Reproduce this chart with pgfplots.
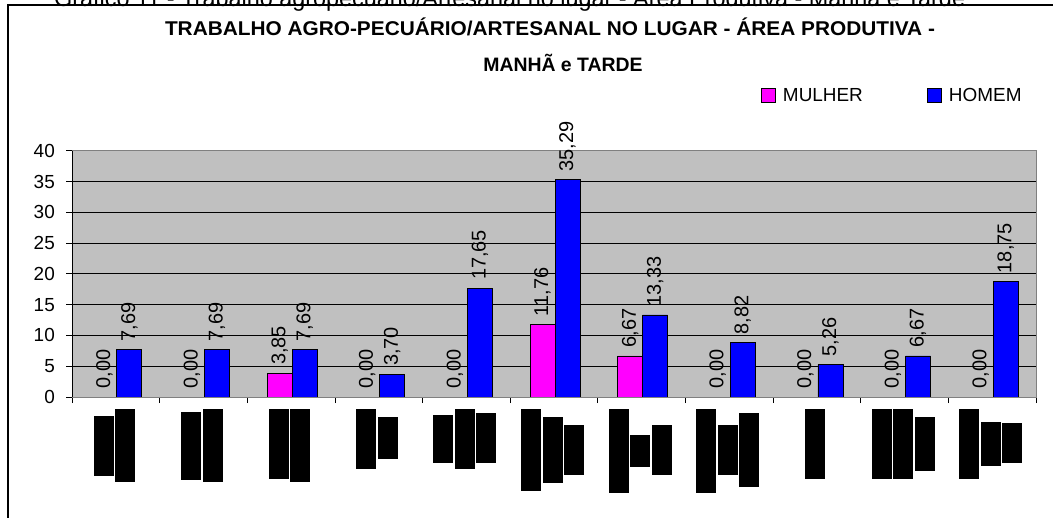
\documentclass[border=0pt]{standalone}
\usepackage{pgfplots}
\pgfplotsset{compat=1.18}
\usepackage{fontspec}
\setmainfont{Liberation Sans}

\definecolor{plotgray}{HTML}{C0C0C0}
\definecolor{framegray}{HTML}{808080}
\definecolor{mulher}{HTML}{FF00FF}
\definecolor{homem}{HTML}{0000FF}

% black label blocks: \blk{top}{bottom}, measured downwards from the top edge
\newcommand{\blk}[2]{\rule[\dimexpr 409bp-#2bp\relax]{20bp}{\dimexpr #2bp-#1bp\relax}}
\newcommand{\gp}{\hspace{1.5bp}}

\begin{document}
\begin{tikzpicture}
\useasboundingbox (0,0) rectangle (1053bp,518bp);
\begin{scope}
  \clip (0,0) rectangle (1053bp,518bp);
  \draw[line width=1.3bp] (8bp,513bp) rectangle (1070bp,-20bp);
  \node[anchor=base west, inner sep=0pt, font=\fontsize{23.5}{23.5}\selectfont]
    at (54bp,511bp) {Gráfico 11 - Trabalho agropecuário/Artesanal no lugar - Área Produtiva - Manhã e Tarde};
\end{scope}

\node[anchor=base, inner sep=0pt, font=\fontsize{20}{20}\selectfont\bfseries]
  at (550bp,482bp) {\scalebox{1.045}[1]{TRABALHO AGRO-PECUÁRIO/ARTESANAL NO LUGAR - ÁREA PRODUTIVA -}};
\node[anchor=base, inner sep=0pt, font=\fontsize{19.5}{19.5}\selectfont\bfseries]
  at (563bp,446bp) {MANHÃ e TARDE};

\begin{axis}[
  at={(72bp,121bp)}, anchor=south west,
  scale only axis, width=964bp, height=246.3bp,
  xmin=-0.5, xmax=10.5, ymin=0, ymax=40,
  ybar, bar width=25bp,
  axis background/.style={fill=plotgray},
  axis line style={framegray, line width=1bp},
  ytick={0,5,...,40},
  ymajorgrids, major grid style={black, line width=0.8bp},
  xtick={-0.5,0.5,...,10.5}, xticklabels={},
  extra x ticks={0,1,...,10},
  extra x tick style={major tick length=0pt, grid=none},
  extra x tick labels={
    {\blk{416}{476}\gp\blk{409}{482}},
    {\blk{412}{480}\gp\blk{409}{482}},
    {\blk{409}{479}\gp\blk{409}{482}},
    {\blk{409}{469}\gp\blk{417}{459}},
    {\blk{415}{463}\gp\blk{409}{469}\gp\blk{413}{463}},
    {\blk{409}{491}\gp\blk{417}{483}\gp\blk{425}{475}},
    {\blk{409}{493}\gp\blk{435}{467}\gp\blk{425}{475}},
    {\blk{409}{493}\gp\blk{425}{475}\gp\blk{413}{487}},
    {\blk{409}{479}},
    {\blk{409}{479}\gp\blk{409}{479}\gp\blk{417}{471}},
    {\blk{409}{479}\gp\blk{422}{466}\gp\blk{423}{463}}
  },
  xticklabel style={anchor=north, inner sep=0pt, yshift=-12bp, xshift=-1.5bp},
  yticklabel style={anchor=east, inner sep=0pt, xshift=-11bp},
  tick align=outside, xtick pos=bottom, ytick pos=left,
  major tick length=6bp,
  tick style={black, line width=0.8bp},
  tick label style={font=\fontsize{19}{19}\selectfont},
  /pgf/number format/assume math mode=true,
  nodes near coords={\pgfmathprintnumber[fixed,fixed zerofill,precision=2,use comma]{\pgfplotspointmeta}},
  every node near coord/.append style={rotate=90, anchor=west, inner sep=0pt,
    inner xsep=8bp, font=\fontsize{20}{20}\selectfont, text=black},
  legend columns=2,
  legend style={at={(axis description cs:0.7147,1.2241)}, anchor=west,
    draw=none, fill=none, inner sep=0pt, outer sep=0pt,
    nodes={inner sep=0pt, anchor=west},
    font=\fontsize{19}{19}\selectfont,
    /tikz/every odd column/.style={column sep=7bp}},
  legend image code/.code={\draw[#1, line width=1bp] (0bp,-7bp) rectangle (14bp,7bp);},
]
\addplot[fill=mulher, draw=black, line width=0.8bp, bar shift=-11.5bp]
  coordinates {(0,0) (1,0) (2,3.85) (3,0) (4,0) (5,11.76) (6,6.67) (7,0) (8,0) (9,0) (10,0)};
\addlegendentry{\makebox[144bp][l]{MULHER}}
\addplot[fill=homem, draw=black, line width=0.8bp, bar shift=13.5bp]
  coordinates {(0,7.69) (1,7.69) (2,7.69) (3,3.70) (4,17.65) (5,35.29) (6,13.33) (7,8.82) (8,5.26) (9,6.67) (10,18.75)};
\addlegendentry{HOMEM}
\draw[black, line width=1bp] (rel axis cs:0,1) -- (rel axis cs:0,0) -- (rel axis cs:1,0);
\end{axis}
\end{tikzpicture}
\end{document}
